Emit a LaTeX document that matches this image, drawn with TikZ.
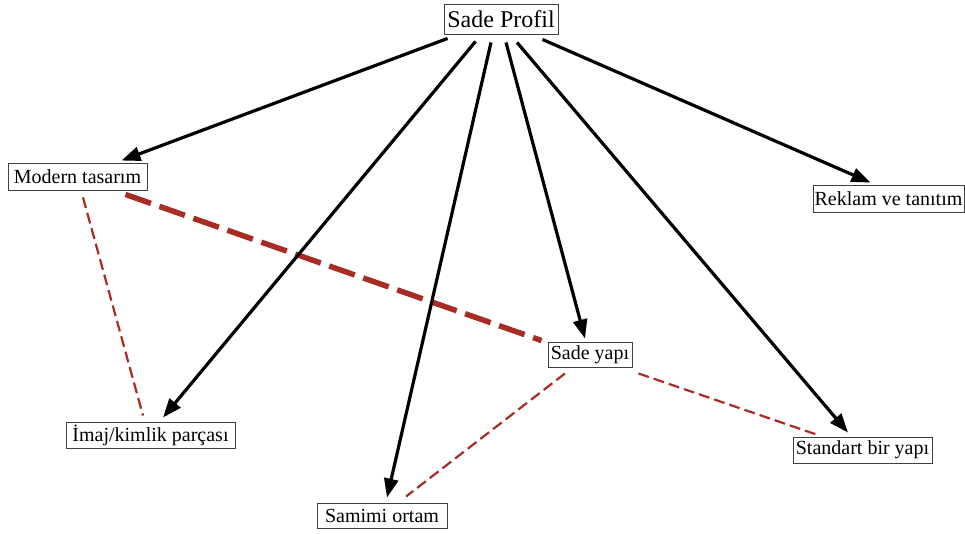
\documentclass[tikz,border=0pt]{standalone}
\usepackage{fontspec}
\setmainfont{Liberation Serif}
\usetikzlibrary{arrows.meta,calc}
\definecolor{dashred}{RGB}{168,44,36}
\tikzset{
  box/.style={draw=black!75, line width=0.9pt, inner sep=0pt, font=\fontsize{20pt}{22pt}\selectfont},
  bigbox/.style={box, font=\fontsize{24pt}{26pt}\selectfont},
  arr/.style={line width=3.2pt, -{Triangle[length=19pt,width=14pt]}},
  thindash/.style={dashred, line width=2.2pt, dash pattern=on 11pt off 5pt},
  thickdash/.style={dashred, line width=5.5pt, dash pattern=on 27pt off 9pt},
}
\begin{document}
\begin{tikzpicture}[x=1pt,y=-1pt]
\useasboundingbox (0,0) rectangle (965,533);
\node[bigbox, minimum width=114pt, minimum height=30pt] (sp) at (501,19) {Sade Profil};
\node[box, minimum width=139pt, minimum height=27pt] (mt) at (77.5,176.5) {Modern tasarım};
\node[box, minimum width=151pt, minimum height=27pt] (rk) at (888.5,198.5) {Reklam ve tanıtım};
\node[box, minimum width=84pt, minimum height=25pt] (sy) at (590,354.5) {Sade yapı};
\node[box, minimum width=169pt, minimum height=26pt] (im) at (150.5,435) {İmaj/kimlik parçası};
\node[box, minimum width=130pt, minimum height=25pt] (sm) at (382,515.5) {Samimi ortam};
\node[box, minimum width=139pt, minimum height=26pt] (st) at (862.5,450) {Standart bir yapı};

\draw[thickdash] ($(mt.south east)+(-22,4)$) -- ($(sy.north west)+(-6,-1)$);
\draw[thindash] ($(mt.south)+(5.5,7)$) -- ($(im.north)+(-7.5,-6)$);
\draw[thindash] ($(sy.south)+(-25,6)$) -- ($(sm.north)+(24,-6)$);
\draw[thindash] ($(sy.south east)+(6,6)$) -- ($(st.north west)+(27,-1)$);

\draw[arr] ($(sp.south west)+(4,4)$) -- ($(mt.north east)+(-26,-2)$);
\draw[arr] ($(sp.south west)+(32,7)$) -- ($(im.north)+(12.5,-4)$);
\draw[arr] ($(sp.south)+(-10,8)$) -- ($(sm.north)+(5,-5)$);
\draw[arr] ($(sp.south)+(5,8)$) -- ($(sy.north)+(-5,-3)$);
\draw[arr] ($(sp.south)+(16,8)$) -- ($(st.north)+(-14.5,-4)$);
\draw[arr] ($(sp.south east)+(-16,5)$) -- ($(rk.north)+(-18,-2)$);
\end{tikzpicture}
\end{document}
